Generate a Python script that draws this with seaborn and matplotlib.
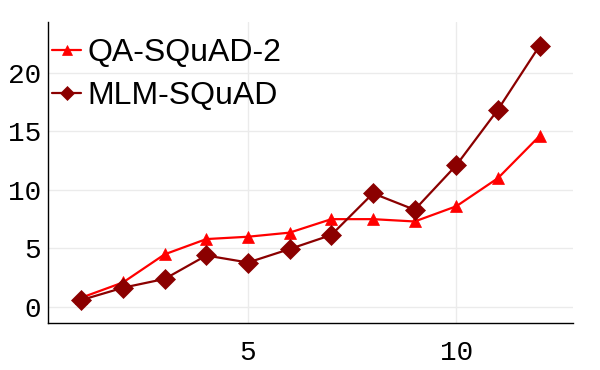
import matplotlib
matplotlib.use("Agg")
import matplotlib.pyplot as plt
import seaborn as sns
import pandas as pd

layers = [1, 2, 3, 4, 5, 6, 7, 8, 9, 10, 11, 12]
qa_squad2 = [0.8, 2.1, 4.5, 5.8, 6.0, 6.35, 7.5, 7.5, 7.3, 8.6, 11.0, 14.6]
mlm_squad = [0.6, 1.65, 2.4, 4.4, 3.8, 4.95, 6.15, 9.7, 8.3, 12.1, 16.85, 22.3]
series_names = ["QA-SQuAD-2", "MLM-SQuAD"]
x_ticks = [5, 10]
y_ticks = [0, 5, 10, 15, 20]

sns.set_theme(style="white")
plt.rcParams['font.family'] = ['Liberation Sans', 'DejaVu Sans']

fig = plt.figure(figsize=(6, 3.7), dpi=100)
ax = fig.add_axes([0.08, 0.127, 0.875, 0.813])

colors = ["#ff0000", "#8b0000"]
marks = ["^", "D"]
msizes = [9, 10]
for name, vals, c, m, ms in zip(series_names, [qa_squad2, mlm_squad], colors, marks, msizes):
    d = pd.DataFrame({"layer": layers, "value": vals})
    sns.lineplot(data=d, x="layer", y="value", color=c, marker=m,
                 markersize=ms, markeredgecolor=c, markeredgewidth=0.5,
                 linewidth=1.6, label=name, ax=ax)

ax.set_xlim(0.2, 12.8)
ax.set_ylim(-1.36, 24.3)
ax.set_xticks(x_ticks)
ax.set_yticks(y_ticks)
ax.grid(True, color="#ebebeb", linewidth=1)
ax.set_axisbelow(True)
ax.set_xlabel("")
ax.set_ylabel("")
for s in ["top", "right"]:
    ax.spines[s].set_visible(False)
for s in ["left", "bottom"]:
    ax.spines[s].set_color("black")
    ax.spines[s].set_linewidth(1)
ax.tick_params(axis="both", length=0, labelsize=20, labelcolor="black")
ax.tick_params(axis="y", pad=5)
ax.tick_params(axis="x", pad=12)
for lbl in ax.get_xticklabels() + ax.get_yticklabels():
    lbl.set_fontfamily("Liberation Mono")

leg = ax.legend(loc="upper left", frameon=False, fontsize=23,
                handlelength=0.9, handletextpad=0.2, borderaxespad=0.0,
                labelspacing=0.4, bbox_to_anchor=(-0.016, 0.99))
for t in leg.get_texts():
    t.set_color("black")
for h in leg.legend_handles:
    h.set_markersize(7)

fig.savefig("out.png", dpi=100)
